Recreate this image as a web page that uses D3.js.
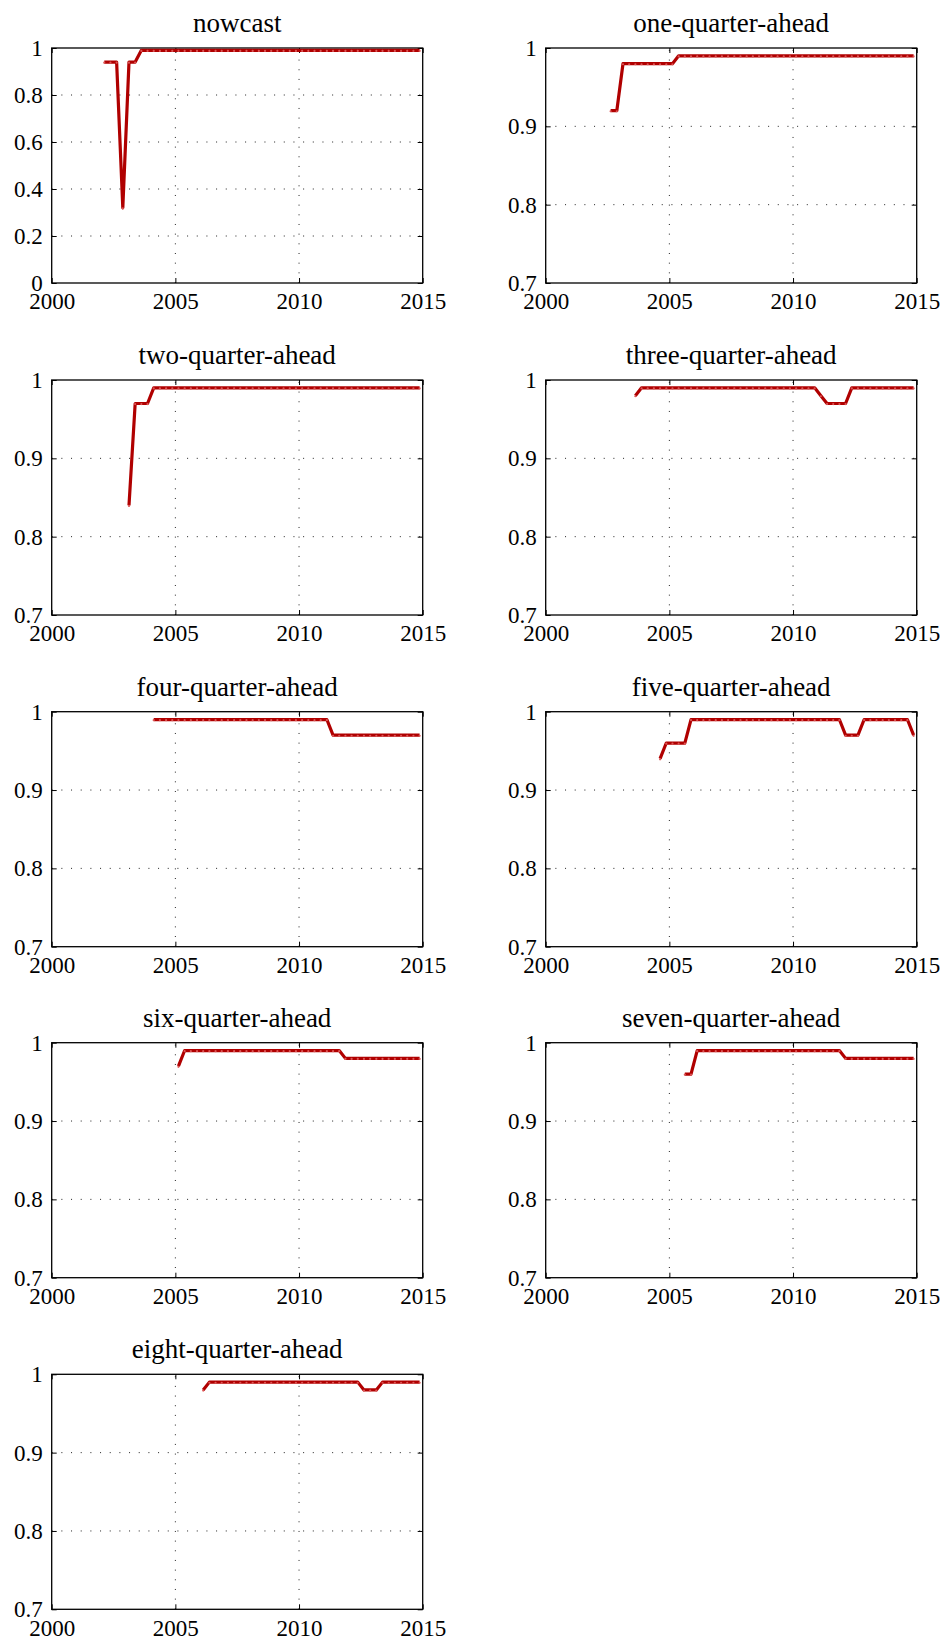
<!DOCTYPE html>
<meta charset="utf-8">
<script src="https://d3js.org/d3.v7.min.js"></script>
<style>
	body{ margin:0; background:#fff; }
	text{ font-family:"Liberation Serif","Times New Roman",serif; fill:#000; }
	.title{ font-size:27px; }
</style>
<div id="chart"></div>
<script>

// panel titles and the first quarter of each series (every series runs to 2014Q4)
var titles = ["nowcast","one-quarter-ahead","two-quarter-ahead","three-quarter-ahead",
	"four-quarter-ahead","five-quarter-ahead","six-quarter-ahead","seven-quarter-ahead","eight-quarter-ahead"]
var starts = ["2002Q1","2002Q3","2003Q1","2003Q3","2004Q1","2004Q3","2005Q1","2005Q3","2006Q1"]

var xTicks = [2000,2005,2010,2015]
var yTicksNowcast = [0,0.2,0.4,0.6,0.8,1]
var yTicksAhead = [0.7,0.8,0.9,1]

// quarterly values, one row per year
var nowcast = [
	0.94,0.94,0.94,0.32,
	0.94,0.94,0.99,0.99,
	0.99,0.99,0.99,0.99, 0.99,0.99,0.99,0.99, 0.99,0.99,0.99,0.99,
	0.99,0.99,0.99,0.99, 0.99,0.99,0.99,0.99, 0.99,0.99,0.99,0.99,
	0.99,0.99,0.99,0.99, 0.99,0.99,0.99,0.99, 0.99,0.99,0.99,0.99,
	0.99,0.99,0.99,0.99, 0.99,0.99,0.99,0.99]
var oneAhead = [
	0.92,0.92,
	0.98,0.98,0.98,0.98,
	0.98,0.98,0.98,0.98,
	0.98,0.99,0.99,0.99,
	0.99,0.99,0.99,0.99, 0.99,0.99,0.99,0.99, 0.99,0.99,0.99,0.99,
	0.99,0.99,0.99,0.99, 0.99,0.99,0.99,0.99, 0.99,0.99,0.99,0.99,
	0.99,0.99,0.99,0.99, 0.99,0.99,0.99,0.99, 0.99,0.99,0.99,0.99]
var twoAhead = [
	0.84,0.97,0.97,0.97,
	0.99,0.99,0.99,0.99, 0.99,0.99,0.99,0.99, 0.99,0.99,0.99,0.99,
	0.99,0.99,0.99,0.99, 0.99,0.99,0.99,0.99, 0.99,0.99,0.99,0.99,
	0.99,0.99,0.99,0.99, 0.99,0.99,0.99,0.99, 0.99,0.99,0.99,0.99,
	0.99,0.99,0.99,0.99, 0.99,0.99,0.99,0.99]
var threeAhead = [
	0.98,0.99,
	0.99,0.99,0.99,0.99, 0.99,0.99,0.99,0.99, 0.99,0.99,0.99,0.99,
	0.99,0.99,0.99,0.99, 0.99,0.99,0.99,0.99, 0.99,0.99,0.99,0.99,
	0.99,0.99,0.99,0.99,
	0.98,0.97,0.97,0.97,
	0.97,0.99,0.99,0.99,
	0.99,0.99,0.99,0.99, 0.99,0.99,0.99,0.99]
var fourAhead = [
	0.99,0.99,0.99,0.99, 0.99,0.99,0.99,0.99, 0.99,0.99,0.99,0.99,
	0.99,0.99,0.99,0.99, 0.99,0.99,0.99,0.99, 0.99,0.99,0.99,0.99,
	0.99,0.99,0.99,0.99,
	0.99,0.97,0.97,0.97,
	0.97,0.97,0.97,0.97, 0.97,0.97,0.97,0.97, 0.97,0.97,0.97,0.97]
var fiveAhead = [
	0.94,0.96,
	0.96,0.96,0.96,0.99,
	0.99,0.99,0.99,0.99, 0.99,0.99,0.99,0.99, 0.99,0.99,0.99,0.99,
	0.99,0.99,0.99,0.99, 0.99,0.99,0.99,0.99,
	0.99,0.99,0.99,0.99,
	0.97,0.97,0.97,0.99,
	0.99,0.99,0.99,0.99,
	0.99,0.99,0.99,0.97]
var sixAhead = [
	0.97,0.99,0.99,0.99,
	0.99,0.99,0.99,0.99, 0.99,0.99,0.99,0.99, 0.99,0.99,0.99,0.99,
	0.99,0.99,0.99,0.99, 0.99,0.99,0.99,0.99,
	0.99,0.99,0.99,0.98,
	0.98,0.98,0.98,0.98, 0.98,0.98,0.98,0.98, 0.98,0.98,0.98,0.98]
var sevenAhead = [
	0.96,0.96,
	0.99,0.99,0.99,0.99, 0.99,0.99,0.99,0.99, 0.99,0.99,0.99,0.99,
	0.99,0.99,0.99,0.99, 0.99,0.99,0.99,0.99,
	0.99,0.99,0.99,0.99,
	0.98,0.98,0.98,0.98, 0.98,0.98,0.98,0.98, 0.98,0.98,0.98,0.98]
var eightAhead = [
	0.98,0.99,0.99,0.99,
	0.99,0.99,0.99,0.99, 0.99,0.99,0.99,0.99, 0.99,0.99,0.99,0.99,
	0.99,0.99,0.99,0.99, 0.99,0.99,0.99,0.99,
	0.99,0.99,0.98,0.98,
	0.98,0.99,0.99,0.99,
	0.99,0.99,0.99,0.99]

var series = [nowcast,oneAhead,twoAhead,threeAhead,fourAhead,fiveAhead,sixAhead,sevenAhead,eightAhead]

var lineColor = "#b00000"
var dotColor = "#dd5555"
var serif = "Liberation Serif, Times New Roman, serif"

var plotW = 371, plotH = 235
var colX = [51.7, 545.7]
var rowY = [48, 380, 711.7, 1042.7, 1374.3]

var svg = d3.select("#chart").append("svg")
	.attr("width",944).attr("height",1640)

var xScale = d3.scaleLinear().domain([2000,2015]).range([0,plotW])

// mid-quarter position: 2002Q1 -> 2002.125
function quarterPoints(start, values){
	var yr = +start.slice(0,4), q = +start.slice(5)
	return values.map(function(v,i){
		var k = (q-1)+i
		return {x: yr + Math.floor(k/4) + ((k%4)+0.5)/4, y: v}
	})
}

for(var p in series){
	var g = svg.append("g")
		.attr("transform","translate("+colX[p%2]+","+rowY[Math.floor(p/2)]+")")
	var ticksY = p==0 ? yTicksNowcast : yTicksAhead
	var yScale = d3.scaleLinear().domain(p==0 ? [0,1] : [0.7,1]).range([plotH,0])
	var pts = quarterPoints(starts[p], series[p])

	// dotted grid on the inner ticks
	g.selectAll(".vgrid").data(xTicks.slice(1,-1)).enter().append("line")
		.attr("x1",function(d){return xScale(d)}).attr("x2",function(d){return xScale(d)})
		.attr("y1",plotH).attr("y2",0)
		.attr("stroke","#222").attr("stroke-width",1).attr("stroke-dasharray","1,8.67")
	g.selectAll(".hgrid").data(ticksY.slice(1,-1)).enter().append("line")
		.attr("x1",0).attr("x2",plotW)
		.attr("y1",function(d){return yScale(d)}).attr("y2",function(d){return yScale(d)})
		.attr("stroke","#222").attr("stroke-width",1).attr("stroke-dasharray","1,8.67")

	// axes, ticks pointing inward on all four sides
	var fmtY = function(d){ return d3.format("~g")(d) }
	var axes = g.append("g")
	axes.append("g").attr("transform","translate(0,"+plotH+")")
		.call(d3.axisBottom(xScale).tickValues(xTicks).tickFormat(d3.format("d")).tickSizeInner(-5).tickSizeOuter(0).tickPadding(10))
	axes.append("g")
		.call(d3.axisTop(xScale).tickValues(xTicks).tickFormat("").tickSizeInner(-5).tickSizeOuter(0))
	axes.append("g")
		.call(d3.axisLeft(yScale).tickValues(ticksY).tickFormat(fmtY).tickSizeInner(-5).tickSizeOuter(0).tickPadding(9))
	axes.append("g").attr("transform","translate("+plotW+",0)")
		.call(d3.axisRight(yScale).tickValues(ticksY).tickFormat("").tickSizeInner(-5).tickSizeOuter(0))
	axes.selectAll("g").attr("font-family",serif).attr("font-size",23)
	axes.selectAll(".domain").remove()
	axes.selectAll(".tick line").attr("stroke","#000").attr("stroke-width",1)
	axes.selectAll(".tick text").style("font-family",serif).style("font-size","23px")

	g.append("rect").attr("width",plotW).attr("height",plotH)
		.attr("fill","none").attr("stroke","#000").attr("stroke-width",1.3)

	// the series
	var line = d3.line().x(function(d){return xScale(d.x)}).y(function(d){return yScale(d.y)})
	g.append("path").datum(pts)
		.attr("fill","none").attr("stroke",lineColor).attr("stroke-width",3.2)
		.attr("stroke-linejoin","round").attr("d",line)
	g.selectAll(".dot").data(pts).enter().append("circle")
		.attr("cx",function(d){return xScale(d.x)}).attr("cy",function(d){return yScale(d.y)+0.6})
		.attr("r",1.1).attr("fill",dotColor)

	g.append("text").attr("class","title")
		.attr("x",plotW/2).attr("y",-16).attr("text-anchor","middle")
		.text(titles[p])
}

</script>
